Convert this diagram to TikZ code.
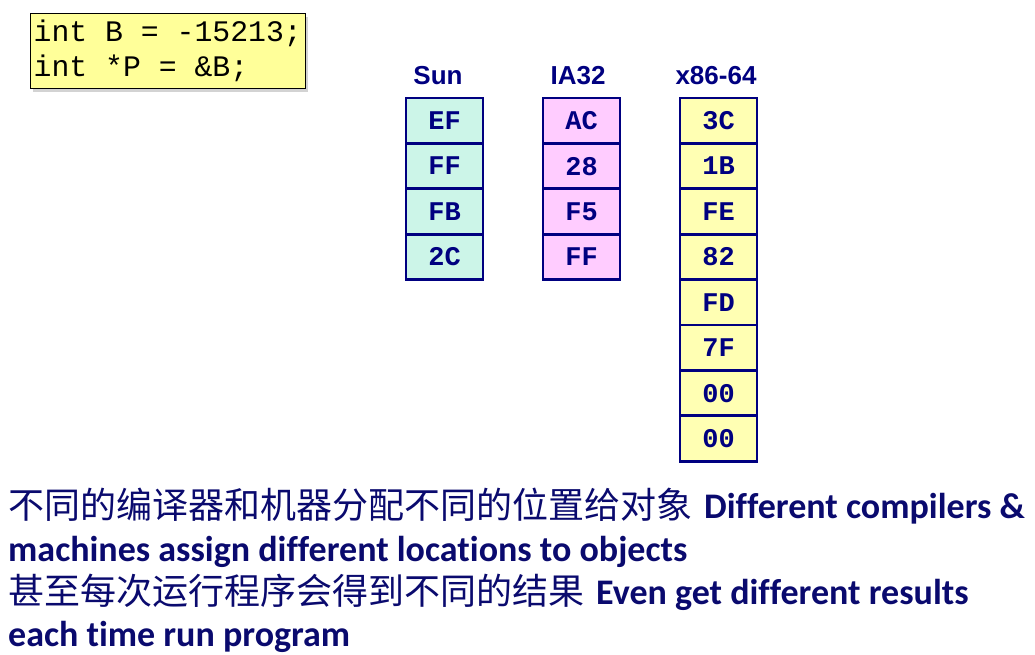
\documentclass[tikz,border=0pt]{standalone}
\usepackage{fontspec}
\setmonofont{Liberation Mono}
\newfontfamily\cjk{Noto Sans CJK SC}
\newfontfamily\headfont{Liberation Sans}
\newfontfamily\notefont{Carlito}[Ligatures=NoCommon]
\usetikzlibrary{shadows}
\definecolor{navy}{RGB}{0,0,128}
\definecolor{ink}{RGB}{10,10,110}
\definecolor{sunfill}{RGB}{204,245,232}
\definecolor{iafill}{RGB}{255,204,255}
\definecolor{xfill}{RGB}{255,255,179}
\definecolor{codefill}{RGB}{255,255,153}

\begin{document}
\begin{tikzpicture}[x=1pt, y=-1pt,
	cell/.style={draw=navy, line width=2.8pt, minimum width=77pt, minimum height=45.4pt, inner sep=0pt,
		font=\fontsize{27}{28}\selectfont\ttfamily\bfseries, text=navy},
	head/.style={font=\fontsize{26}{28}\selectfont\headfont\bfseries, text=navy},
	note/.style={anchor=base west, inner sep=0pt, text=ink},
	eng/.style={font=\fontsize{36}{40}\selectfont\notefont\bfseries}]
	\useasboundingbox (0,0) rectangle (1035,654);
	\node[draw=black, line width=0.6pt, fill=codefill, drop shadow={shadow xshift=3pt, shadow yshift=-4pt, opacity=0.35},
		minimum width=275pt, minimum height=75pt, inner xsep=2pt, inner ysep=2pt, align=left, anchor=north west,
		font=\fontsize{29.8}{35}\selectfont\ttfamily] (code) at (30,13) {int B = -15213;\\int *P = \&B;};
	\node[head] (sun) at (438,76) {Sun};
	\node[head] (ia) at (578,76) {IA32};
	\node[head] (x86) at (716,76) {x86-64};
	\foreach \v [count=\i] in {EF,FF,FB,2C}
		\node[cell, fill=sunfill] (sun\i) at (444.5,{75.3+45.4*\i}) {\v};
	\foreach \v [count=\i] in {AC,28,F5,FF}
		\node[cell, fill=iafill] (ia\i) at (581.5,{75.3+45.4*\i}) {\v};
	\foreach \v [count=\i] in {3C,1B,FE,82,FD,7F,00,00}
		\node[cell, fill=xfill] (x\i) at (718.5,{75.3+45.4*\i}) {\v};
	\node[note] (l1) at (8,518) {{\fontsize{36}{40}\selectfont\cjk 不同的编译器和机器分配不同的位置给对象}\hspace{12pt}{\fontsize{36}{40}\selectfont\notefont\bfseries Different compilers \&}};
	\node[note, eng] (l2) at (8,561) {machines assign different locations to objects};
	\node[note] (l3) at (8,604) {{\fontsize{36}{40}\selectfont\cjk 甚至每次运行程序会得到不同的结果}\hspace{12pt}{\fontsize{36}{40}\selectfont\notefont\bfseries Even get different results}};
	\node[note, eng] (l4) at (8,646) {each time run program};
\end{tikzpicture}
\end{document}
